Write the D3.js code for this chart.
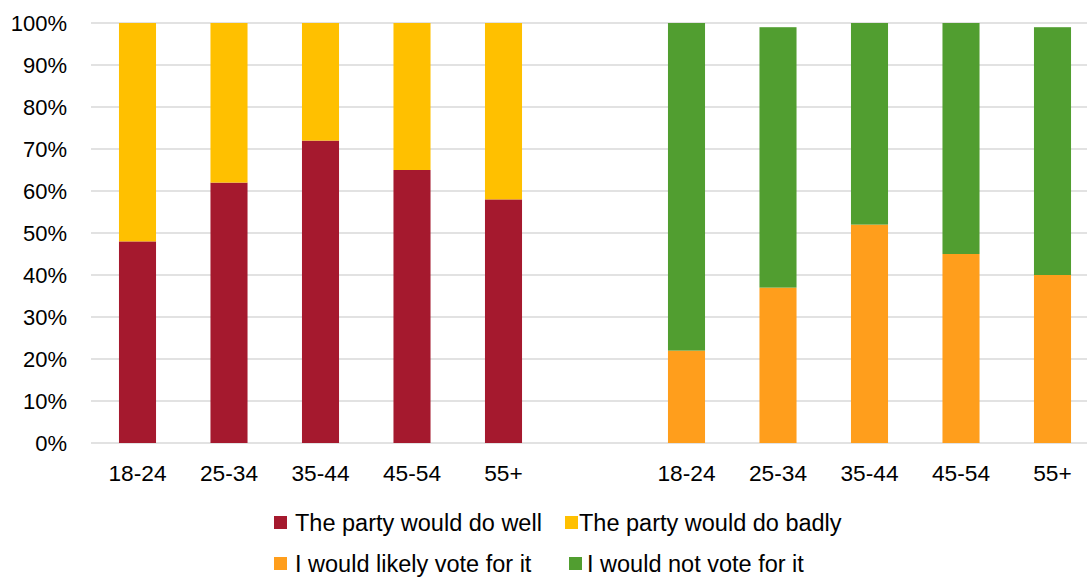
<!DOCTYPE html>
<html><head><meta charset="utf-8">
<script src="https://cdn.jsdelivr.net/npm/d3@7"></script>
<style>body{margin:0;background:#fff}svg{display:block;font-family:"Liberation Sans",Arial,sans-serif}</style>
</head><body><svg id="c" width="1087" height="578"></svg>
<script>
const ageGroups = ["18-24","25-34","35-44","45-54","55+"];
const doWell   = [48,62,72,65,58];
const doBadly  = [52,38,28,35,42];
const likelyVote = [22,37,52,45,40];
const notVote    = [78,62,48,55,59];
const yTicks = [0,10,20,30,40,50,60,70,80,90,100];
const legendRow1 = ["The party would do well","The party would do badly"];
const legendRow2 = ["I would likely vote for it","I would not vote for it"];
const colors = {well:"#A5192E", badly:"#FFC000", likely:"#FF9E1C", not:"#519E30"};

const svg = d3.select("#c");
const slots = [...ageGroups.map(a=>"L"+a), "gap", ...ageGroups.map(a=>"R"+a)];
const x = d3.scaleBand().domain(slots).range([91.75, 1098.25]).paddingInner(0.595).paddingOuter(0.2975);
const y = d3.scaleLinear().domain([0,100]).range([443,23]);

// gridlines
svg.append("g").selectAll("line").data(yTicks).join("line")
  .attr("x1",91).attr("x2",1087).attr("y1",d=>y(d)).attr("y2",d=>y(d))
  .attr("stroke","#d9d9d9").attr("stroke-width",1.5);

// y labels
const yAxis = d3.axisLeft(y).tickValues(yTicks).tickFormat(d=>d+"%").tickSize(0).tickPadding(0);
const ga = svg.append("g").attr("transform","translate(67,0)").call(yAxis);
ga.select(".domain").remove();
ga.selectAll("text").attr("font-size",22).attr("fill","#000").attr("font-family","Liberation Sans, Arial, sans-serif");

// x labels
const xAxis = d3.axisBottom(x).tickValues(slots.filter(s=>s!=="gap")).tickFormat(s=>s.slice(1)).tickSize(0).tickPadding(0);
const gx = svg.append("g").call(xAxis);
gx.select(".domain").remove();
gx.selectAll(".tick").attr("transform",d=>`translate(${x(d)+x.bandwidth()/2},481)`);
gx.selectAll("text").attr("y",0).attr("dy",0).attr("font-size",22.7).attr("fill","#000").attr("font-family","Liberation Sans, Arial, sans-serif");

function stack(prefix, lower, upper, cLow, cUp){
  const g = svg.append("g");
  ageGroups.forEach((a,i)=>{
    const k = prefix+a;
    g.append("rect").attr("x",x(k)).attr("width",x.bandwidth())
      .attr("y",y(lower[i])).attr("height",y(0)-y(lower[i])).attr("fill",cLow);
    g.append("rect").attr("x",x(k)).attr("width",x.bandwidth())
      .attr("y",y(lower[i]+upper[i])).attr("height",y(lower[i])-y(lower[i]+upper[i])).attr("fill",cUp);
  });
}
stack("L", doWell, doBadly, colors.well, colors.badly);
stack("R", likelyVote, notVote, colors.likely, colors.not);

// legend
const leg = [
  {t:legendRow1[0], c:colors.well, mx:274, tx:295, base:531},
  {t:legendRow1[1], c:colors.badly, mx:565, tx:579, base:531},
  {t:legendRow2[0], c:colors.likely, mx:274, tx:295, base:572},
  {t:legendRow2[1], c:colors.not, mx:569, tx:587, base:572}
];
const lg = svg.append("g").selectAll("g").data(leg).join("g");
lg.append("rect").attr("x",d=>d.mx).attr("y",d=>d.base-15).attr("width",13).attr("height",13).attr("fill",d=>d.c);
lg.append("text").attr("x",d=>d.tx).attr("y",d=>d.base)
  .attr("font-size",23.5).attr("fill","#000").text(d=>d.t);
</script></body></html>
